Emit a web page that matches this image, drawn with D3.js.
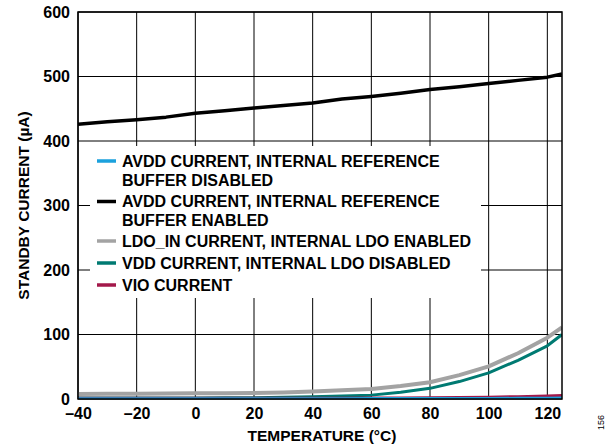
<!DOCTYPE html>
<html>
<head>
<meta charset="utf-8">
<script src="https://cdn.jsdelivr.net/npm/d3@7"></script>
<style>
  body { margin: 0; background: #fff; }
  text { font-family: "Liberation Sans", Arial, sans-serif; font-weight: bold; fill: #000; }
</style>
</head>
<body>
<div id="chart"></div>
<script>
// temperatures (°C) at which currents were read
var temps = [-40, -30, -20, -10, 0, 10, 20, 30, 40, 50, 60, 70, 80, 90, 100, 110, 120, 125];

// standby currents (µA), one array per supply
var avddDisabled = [0.4, 0.4, 0.4, 0.4, 0.4, 0.4, 0.4, 0.5, 0.5, 0.5, 0.6, 0.6, 0.7, 0.8, 0.9, 1.0, 1.2, 1.4];
var avddEnabled  = [426, 430, 433, 437, 443, 447, 451, 455, 459, 465, 469, 474, 480, 484, 489, 494, 499, 504];
var ldoIn        = [7.8, 8.0, 8.2, 8.5, 8.8, 9.0, 9.3, 10.2, 11.8, 13.5, 15.5, 20, 26, 37, 50.5, 71, 95, 111];
var vddCurrent   = [1.5, 1.5, 1.6, 1.6, 1.7, 1.8, 2.0, 2.6, 3.6, 4.6, 6.0, 10.5, 16.5, 27, 40.5, 60, 82.5, 100];
var vioCurrent   = [1.0, 1.0, 1.0, 1.0, 1.0, 1.0, 1.1, 1.1, 1.2, 1.3, 1.4, 1.6, 1.9, 2.3, 2.8, 3.6, 4.8, 5.6];

var seriesNames = [
  ["AVDD CURRENT, INTERNAL REFERENCE", "BUFFER DISABLED"],
  ["AVDD CURRENT, INTERNAL REFERENCE", "BUFFER ENABLED"],
  ["LDO_IN CURRENT, INTERNAL LDO ENABLED"],
  ["VDD CURRENT, INTERNAL LDO DISABLED"],
  ["VIO CURRENT"]
];
var seriesColors = ["#1ba1dd", "#000000", "#a3a3a3", "#007a72", "#a3184a"];
var seriesWidths = [3, 3.5, 4, 3, 3];

var xTicks = [-40, -20, 0, 20, 40, 60, 80, 100, 120];
var yTicks = [0, 100, 200, 300, 400, 500, 600];

var W = 614, H = 444;
var margin = { top: 12, right: 52, bottom: 45, left: 78 };

var svg = d3.select("#chart").append("svg")
  .attr("width", W)
  .attr("height", H);

var x = d3.scaleLinear().domain([-40, 125]).range([margin.left, W - margin.right]);
var y = d3.scaleLinear().domain([0, 600]).range([H - margin.bottom, margin.top]);

// grid
svg.append("g")
  .selectAll("line.v")
  .data(xTicks)
  .enter().append("line")
    .attr("x1", d => x(d)).attr("x2", d => x(d))
    .attr("y1", y(0)).attr("y2", y(600))
    .attr("stroke", "#000").attr("stroke-width", 1);
svg.append("g")
  .selectAll("line.h")
  .data(yTicks)
  .enter().append("line")
    .attr("x1", x(-40)).attr("x2", x(125))
    .attr("y1", d => y(d)).attr("y2", d => y(d))
    .attr("stroke", "#000").attr("stroke-width", 1);

// legend box hides the grid behind it
svg.append("rect")
  .attr("x", 90).attr("y", 146)
  .attr("width", 391).attr("height", 152)
  .attr("fill", "#fff");

// lines
var allSeries = [avddDisabled, avddEnabled, ldoIn, vddCurrent, vioCurrent];
var drawOrder = [2, 3, 4, 0, 1];
var line = d3.line()
  .x((d, i) => x(temps[i]))
  .y(d => y(d));

svg.append("defs").append("clipPath").attr("id", "clip")
  .append("rect")
    .attr("x", x(-40)).attr("y", y(600))
    .attr("width", x(125) - x(-40)).attr("height", y(0) - y(600));

svg.append("g")
  .attr("clip-path", "url(#clip)")
  .selectAll("path")
  .data(drawOrder)
  .enter().append("path")
    .attr("d", k => line(allSeries[k]))
    .attr("fill", "none")
    .attr("stroke", k => seriesColors[k])
    .attr("stroke-width", k => seriesWidths[k])
    .attr("stroke-linejoin", "round");

// frame
svg.append("rect")
  .attr("x", x(-40)).attr("y", y(600))
  .attr("width", x(125) - x(-40)).attr("height", y(0) - y(600))
  .attr("fill", "none").attr("stroke", "#000").attr("stroke-width", 1.5);

// axes
var xAxis = svg.append("g")
  .attr("transform", "translate(0," + y(0) + ")")
  .call(d3.axisBottom(x).tickValues(xTicks).tickSize(0).tickPadding(6)
    .tickFormat(d => d < 0 ? "\u2013" + Math.abs(d) : d));
xAxis.select(".domain").remove();
xAxis.selectAll("text").attr("font-size", 16).attr("dy", "0.85em");

var yAxis = svg.append("g")
  .attr("transform", "translate(" + x(-40) + ",0)")
  .call(d3.axisLeft(y).tickValues(yTicks).tickSize(0).tickPadding(8));
yAxis.select(".domain").remove();
yAxis.selectAll("text").attr("font-size", 16);

svg.append("text")
  .attr("x", (x(-40) + x(125)) / 2 + 2)
  .attr("y", 441)
  .attr("text-anchor", "middle")
  .attr("font-size", 15.5)
  .text("TEMPERATURE (°C)");

svg.append("text")
  .attr("transform", "translate(29," + ((y(0) + y(600)) / 2) + ") rotate(-90)")
  .attr("text-anchor", "middle")
  .attr("font-size", 15.5)
  .text("STANDBY CURRENT (µA)");

// side figure number
svg.append("text")
  .attr("transform", "translate(604,430) rotate(-90)")
  .attr("font-size", 9)
  .style("font-weight", "normal")
  .attr("fill", "#444")
  .text("156");

// legend
var legendY = [161, 201.5, 241, 263, 285];
var leg = svg.append("g");
seriesNames.forEach(function(lines, i) {
  leg.append("line")
    .attr("x1", 97).attr("x2", 116)
    .attr("y1", legendY[i]).attr("y2", legendY[i])
    .attr("stroke", seriesColors[i]).attr("stroke-width", 3.5);
  var t = leg.append("text")
    .attr("x", 122).attr("y", legendY[i])
    .attr("font-size", 16);
  lines.forEach(function(s, j) {
    t.append("tspan").attr("x", 122).attr("dy", j === 0 ? "0.36em" : 19).text(s);
  });
});
</script>
</body>
</html>
